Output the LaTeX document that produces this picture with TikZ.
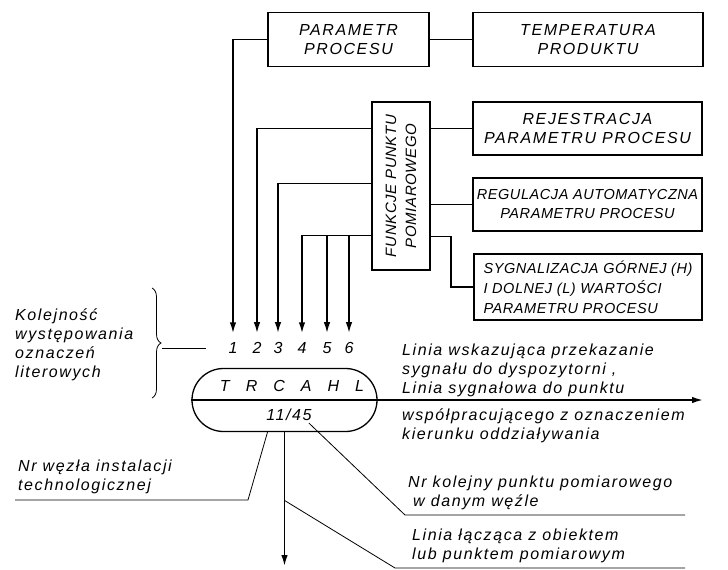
\documentclass[tikz,border=0pt]{standalone}
\usepackage{fontspec}
\setmainfont{Liberation Sans}
\newfontfamily\techfont[LetterSpace=10]{Liberation Sans Italic}
\newfontfamily\techfontn[LetterSpace=4]{Liberation Sans Italic}
\usetikzlibrary{arrows.meta,shapes.misc,decorations.pathreplacing,calc}

\tikzset{
  conn/.style={line width=1.7pt},
  lead/.style={line width=0.8pt},
  box/.style={draw, line width=1.3pt, inner sep=0pt, align=center},
  txt/.style={inner sep=0pt, align=left},
  >={Latex[length=11pt,width=6.5pt]}
}

\begin{document}
\begin{tikzpicture}[x=1pt,y=-1pt,font=\fontsize{16}{19}\selectfont\techfont]
    \useasboundingbox (0,0) rectangle (728,570);

    % boxes
    \node[box, minimum width=161pt, minimum height=54pt] (param) at (348.5,39.5) {PARAMETR\\PROCESU};
    \node[box, minimum width=230pt, minimum height=54pt] (temp) at (588,39.5) {TEMPERATURA\\PRODUKTU};
    \node[box, minimum width=58pt, minimum height=168pt] (funk) at (401,186) {};
    \node[rotate=90, inner sep=0pt, align=center, font=\fontsize{15}{20}\selectfont\techfontn] (funktxt) at (funk.center) {FUNKCJE PUNKTU\\POMIAROWEGO};
    \node[box, minimum width=229pt, minimum height=53pt] (rej) at (587.5,128.5) {REJESTRACJA\\PARAMETRU PROCESU};
    \node[box, minimum width=229pt, minimum height=53pt, font=\fontsize{14.5}{19}\selectfont\techfontn] (reg) at (587.5,204.5) {REGULACJA AUTOMATYCZNA\\PARAMETRU PROCESU};
    \node[box, minimum width=228pt, minimum height=66pt, align=left, font=\fontsize{14.5}{20}\selectfont\techfontn] (syg) at (588,287) {SYGNALIZACJA GÓRNEJ (H)\\I DOLNEJ (L) WARTOŚCI\\PARAMETRU PROCESU};

    % numbers
    \foreach \i/\x in {1/233,2/257,3/278,4/302,5/327,6/349} {
            \node[txt] (n\i) at (\x,348) {\i};
        }

    % connectors
    \draw[conn] (param.east) -- (temp.west);
    \draw[conn,->,shorten >=9pt] (param.west) -| (n1);
    \draw[conn,->,shorten >=9pt] ($(funk.north west)+(0,27)$) -| (n2);
    \draw[conn,->,shorten >=9pt] ($(funk.north west)+(0,82)$) -| (n3);
    \coordinate (bus) at ($(funk.north west)+(0,134)$);
    \draw[conn,->,shorten >=9pt] (bus) -| (n4);
    \foreach \i in {5,6} {
            \draw[conn,->,shorten >=9pt] (bus -| n\i) -- (n\i);
        }
    \draw[conn] (funk.east |- rej.west) -- (rej.west);
    \draw[conn] (funk.east |- reg.west) -- (reg.west);
    \draw[conn] ($(funk.north east)+(0,135)$) -- ++(20,0) |- (syg.west);

    % brace
    \node[txt, anchor=west] (kol) at (15,345) {Kolejność\\występowania\\oznaczeń\\literowych};
    \draw[lead, decorate, decoration={brace, amplitude=9pt}] (152,288) -- (152,398);
    \coordinate (btip) at (162,348);
    \draw[lead] (btip) -- ($(n1.west)+(-22,0)$);

    % measuring point
    \node[draw, line width=1.3pt, rounded rectangle, minimum width=185pt, minimum height=63pt, inner sep=0pt] (stad) at (284.5,400) {};
    \node[txt] (lit) at (292,386) {T\quad R\quad C\quad A\quad H\quad L};
    \node[txt] (idx) at (289,415) {11/45};
    \coordinate (disp) at (703,400);
    \coordinate (obj) at (284.5,566);
    \draw[conn,->] (stad.west) -- (disp);
    \draw[conn,->] (stad.south) -- (obj);

    % descriptions
    \node[txt, anchor=west] (opis1) at (402,370) {Linia wskazująca przekazanie\\sygnału do dyspozytorni ,\\Linia sygnałowa do punktu};
    \node[txt, anchor=west] (opis2) at (402,426) {współpracującego z oznaczeniem\\kierunku oddziaływania};

    \node[txt, anchor=south west] (wezel) at (18,494) {Nr węzła instalacji\\technologicznej};
    \coordinate (w1) at (248,500);
    \coordinate (w0) at (15,500);
    \draw[lead] ($(stad.south)+(-17,0)$) -- (w1) -- (w0);

    \node[txt, anchor=south west] (kolejny) at (408,510) {Nr kolejny punktu pomiarowego\\\hspace{5pt}w danym węźle};
    \coordinate (k1) at (405,515);
    \coordinate (k0) at (685,515);
    \draw[lead] ($(idx.east)+(-3,8)$) -- (k1) -- (k0);

    \node[txt, anchor=south west] (linia) at (412,563) {Linia łącząca z obiektem\\lub punktem pomiarowym};
    \coordinate (l1) at (395,568);
    \coordinate (l0) at (685,568);
    \draw[lead] ($(stad.south)!0.51!(obj)$) -- (l1) -- (l0);
\end{tikzpicture}
\end{document}
